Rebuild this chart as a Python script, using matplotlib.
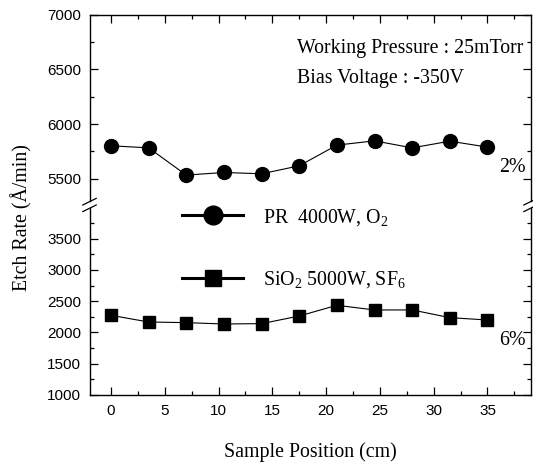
import matplotlib
matplotlib.use('Agg')
import matplotlib.pyplot as plt
from matplotlib.lines import Line2D
from matplotlib.ticker import FixedLocator

# ---------------- data ----------------
positions = [0, 3.5, 7, 10.5, 14, 17.5, 21, 24.5, 28, 31.5, 35]
pr_rate = [5802, 5783, 5534, 5558, 5546, 5619, 5808, 5847, 5783, 5844, 5790]
sio2_rate = [2272, 2165, 2155, 2133, 2139, 2261, 2433, 2358, 2358, 2235, 2197]
pr_label = r'PR  4000W, O$_2$'
sio2_label = r'SiO$_2$ 5000W, SF$_6$'
upper_yticks = [5500, 6000, 6500, 7000]
upper_yminor = [5250, 5750, 6250, 6750]
lower_yticks = [1000, 1500, 2000, 2500, 3000, 3500]
lower_yminor = [1250, 1750, 2250, 2750, 3250, 3750]
xticks = [0, 5, 10, 15, 20, 25, 30, 35]
xminor = [2.5, 7.5, 12.5, 17.5, 22.5, 27.5, 32.5, 37.5]
note1 = 'Working Pressure : 25mTorr'
note2 = 'Bias Voltage : -350V'
pr_unif = '2%'
sio2_unif = '6%'
xlabel = 'Sample Position (cm)'
ylabel = 'Etch Rate (\u00c5/min)'

plt.rcParams['font.family'] = ['Liberation Serif', 'DejaVu Serif']
plt.rcParams['mathtext.default'] = 'regular'

W, H = 533, 465
fig = plt.figure(figsize=(W / 100, H / 100), dpi=100)

def fx(px):
    return px / W

def fy(py):
    return 1 - py / H

left_px, right_px = 89.5, 530.5
up_top, up_bot = 14.7, 200.7
lo_top, lo_bot = 207.5, 394.7

ax_up = fig.add_axes([fx(left_px), fy(up_bot), fx(right_px - left_px), (up_bot - up_top) / H])
ax_lo = fig.add_axes([fx(left_px), fy(lo_bot), fx(right_px - left_px), (lo_bot - lo_top) / H])

ax_up.plot(positions, pr_rate, color='k', lw=0.8, marker='o', ms=10, mfc='k', mec='k')
ax_lo.plot(positions, sio2_rate, color='k', lw=0.8, marker='s', ms=9, mfc='k', mec='k')

for ax in (ax_up, ax_lo):
    ax.set_xlim(-2, 39)
    ax.xaxis.set_major_locator(FixedLocator(xticks))
    ax.xaxis.set_minor_locator(FixedLocator(xminor))
    for s in ax.spines.values():
        s.set_linewidth(1.0)
    ax.tick_params(which='major', direction='in', length=6, width=0.9)
    ax.tick_params(which='minor', direction='in', length=3, width=0.9)
    ax.tick_params(axis='y', which='both', left=True, right=True)
    ax.tick_params(axis='y', pad=6)
    for lab in ax.get_yticklabels():
        lab.set_fontfamily('Liberation Sans')
        lab.set_fontsize(11)

ax_up.set_ylim(5300, 7000)
ax_up.yaxis.set_major_locator(FixedLocator(upper_yticks))
ax_up.yaxis.set_minor_locator(FixedLocator(upper_yminor))
ax_up.spines['bottom'].set_visible(False)
ax_up.tick_params(axis='x', which='both', bottom=False, top=True, labelbottom=False)

ax_lo.set_ylim(1000, 4000)
ax_lo.yaxis.set_major_locator(FixedLocator(lower_yticks))
ax_lo.yaxis.set_minor_locator(FixedLocator(lower_yminor))
ax_lo.spines['top'].set_visible(False)
ax_lo.tick_params(axis='x', which='both', bottom=True, top=False, pad=7)

for ax in (ax_up, ax_lo):
    for lab in ax.get_yticklabels() + ax.get_xticklabels():
        lab.set_fontfamily('Liberation Sans')
        lab.set_fontsize(11)

# break marks
for xc in (left_px, right_px):
    for yc in (201.7, 208.3):
        fig.add_artist(Line2D([fx(xc - 6.7), fx(xc + 6.7)], [fy(yc + 3.3), fy(yc - 3.3)],
                              transform=fig.transFigure, color='k', lw=0.9))

# legend
handles = [Line2D([], [], color='k', lw=2.2, marker='o', ms=13.5),
           Line2D([], [], color='k', lw=2.2, marker='s', ms=12)]
fs = 14.3
fpx = fs * 100 / 72
fig.legend(handles, [pr_label, sio2_label], loc='center left',
           bbox_to_anchor=(fx(182), fy(248.5)), frameon=False, fontsize=fs,
           handlelength=61 / fpx, handletextpad=20 / fpx, labelspacing=2.1,
           borderpad=0, borderaxespad=0, numpoints=1)

fig.text(fx(296.7), fy(52.7), note1, fontsize=fs, va='baseline', ha='left')
fig.text(fx(296.7), fy(83.3), note2, fontsize=fs, va='baseline', ha='left')
fig.text(fx(499), fy(172.3), pr_unif, fontsize=fs, va='baseline', ha='left')
fig.text(fx(499), fy(345), sio2_unif, fontsize=fs, va='baseline', ha='left')
fig.text(fx(310), fy(457), xlabel, fontsize=fs, va='baseline', ha='center')
fig.text(fx(27), fy(217.5), ylabel, fontsize=fs, va='baseline', ha='center',
         rotation=90, rotation_mode='anchor')

fig.savefig('out.png', dpi=100)
